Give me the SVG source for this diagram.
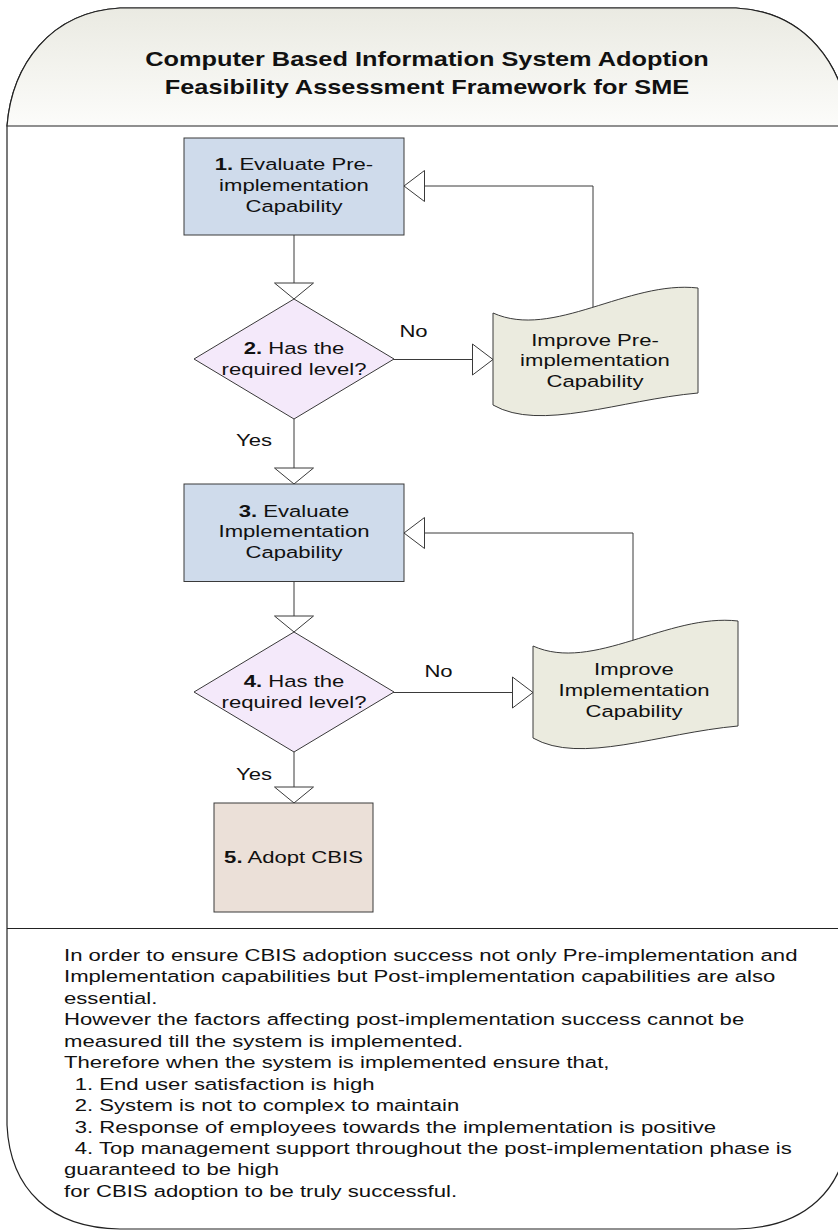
<svg xmlns="http://www.w3.org/2000/svg" width="838" height="1231" viewBox="0 0 838 1231">
<style>
.frame{fill:#fff;stroke:#222;stroke-width:1.2}
.div{stroke:#222;stroke-width:1.2;fill:none}
.proc{fill:#cfdbeb;stroke:#3a3a3a;stroke-width:1}
.dec{fill:#f4e9fa;stroke:#3a3a3a;stroke-width:1}
.tape{fill:#ebebdf;stroke:#3a3a3a;stroke-width:1}
.end{fill:#ebe0d8;stroke:#3a3a3a;stroke-width:1}
.c{fill:none;stroke:#3a3a3a;stroke-width:1}
.ah{fill:#fff;stroke:#3a3a3a;stroke-width:1}
.t{font-family:"Liberation Sans",Arial,sans-serif;font-size:17px;fill:#111}
.title{font-family:"Liberation Sans",Arial,sans-serif;font-size:19.5px;font-weight:bold;fill:#111}
.note{font-family:"Liberation Sans",Arial,sans-serif;font-size:16.5px;fill:#111}
</style>
<defs>
<linearGradient id="hdr" x1="0" y1="0" x2="0" y2="1">
<stop offset="0" stop-color="#eaeae2"/>
<stop offset="1" stop-color="#fcfcfa"/>
</linearGradient>
<marker id="av" markerUnits="userSpaceOnUse" orient="auto" overflow="visible" markerWidth="1" markerHeight="1" refX="0" refY="0">
<path class="ah" d="M-16,-19.5 L0,0 L-16,19.5 Z"/>
</marker>
<marker id="ah" markerUnits="userSpaceOnUse" orient="auto" overflow="visible" markerWidth="1" markerHeight="1" refX="0" refY="0">
<path class="ah" d="M-20.5,-15.5 L0,0 L-20.5,15.5 Z"/>
</marker>
</defs>

<g id="frame">
<path class="frame" d="M7,126 C12,65 50,12 120,8 L736,8 C806,12 844,65 849,126 L849,1125 C846,1190 805,1228 736,1229 L120,1229 C51,1228 10,1190 7,1125 Z"/>
<path d="M7,126 C12,65 50,12 120,8 L736,8 C806,12 844,65 849,126 Z" fill="url(#hdr)" stroke="#222" stroke-width="1.2"/>
<line class="div" x1="7" y1="928.5" x2="849" y2="928.5"/>
<text class="title" text-anchor="middle" transform="translate(427,65.5) scale(1.3,1)">Computer Based Information System Adoption</text>
<text class="title" text-anchor="middle" transform="translate(427,93.5) scale(1.3,1)">Feasibility Assessment Framework for SME</text>
</g>

<g id="connectors">
<path class="c" d="M294,235 L294,299" marker-end="url(#av)"/>
<path class="c" d="M393,359.5 L493,359.5" marker-end="url(#ah)"/>
<path class="c" d="M593,307 L593,186 L404,186" marker-end="url(#ah)"/>
<path class="c" d="M294,419 L294,484" marker-end="url(#av)"/>
<path class="c" d="M294,581.5 L294,632" marker-end="url(#av)"/>
<path class="c" d="M393,692.5 L533,692.5" marker-end="url(#ah)"/>
<path class="c" d="M633,641 L633,533 L404,533" marker-end="url(#ah)"/>
<path class="c" d="M294,752 L294,803" marker-end="url(#av)"/>
<text class="t" text-anchor="middle" transform="translate(413.5,336.5) scale(1.3,1)">No</text>
<text class="t" text-anchor="middle" transform="translate(254,446) scale(1.3,1)">Yes</text>
<text class="t" text-anchor="middle" transform="translate(438.5,676.5) scale(1.3,1)">No</text>
<text class="t" text-anchor="middle" transform="translate(254,780) scale(1.3,1)">Yes</text>
</g>

<g id="node1">
<rect class="proc" x="184" y="138" width="220" height="97"/>
<text class="t" text-anchor="middle" transform="translate(294,170) scale(1.3,1)"><tspan font-weight="bold">1.</tspan> Evaluate Pre-<tspan x="0" dy="21">implementation</tspan><tspan x="0" dy="21">Capability</tspan></text>
</g>

<g id="node2">
<polygon class="dec" points="294,299 394,359 294,419 194,359"/>
<text class="t" text-anchor="middle" transform="translate(294,354) scale(1.3,1)"><tspan font-weight="bold">2.</tspan> Has the<tspan x="0" dy="21">required level?</tspan></text>
</g>

<g id="node2b">
<path class="tape" d="M493,313 C553,340 628,280 698,288 L698,393 C620,400 540,432 493,405 Z"/>
<text class="t" text-anchor="middle" transform="translate(595,346) scale(1.3,1)">Improve Pre-<tspan x="0" dy="20.5">implementation</tspan><tspan x="0" dy="20.5">Capability</tspan></text>
</g>

<g id="node3">
<rect class="proc" x="184" y="484" width="220" height="97.5"/>
<text class="t" text-anchor="middle" transform="translate(294,516.5) scale(1.3,1)"><tspan font-weight="bold">3.</tspan> Evaluate<tspan x="0" dy="21">Implementation</tspan><tspan x="0" dy="21">Capability</tspan></text>
</g>

<g id="node4">
<polygon class="dec" points="294,632 394,692 294,752 194,692"/>
<text class="t" text-anchor="middle" transform="translate(294,687) scale(1.3,1)"><tspan font-weight="bold">4.</tspan> Has the<tspan x="0" dy="21">required level?</tspan></text>
</g>

<g id="node4b">
<path class="tape" d="M533,646 C593,673 668,613 738,621 L738,726 C660,733 580,765 533,738 Z"/>
<text class="t" text-anchor="middle" transform="translate(634,675) scale(1.3,1)">Improve<tspan x="0" dy="21">Implementation</tspan><tspan x="0" dy="21">Capability</tspan></text>
</g>

<g id="node5">
<rect class="end" x="214" y="803" width="159" height="109"/>
<text class="t" text-anchor="middle" transform="translate(293.5,863) scale(1.3,1)"><tspan font-weight="bold">5.</tspan> Adopt CBIS</text>
</g>

<g id="notes">
<text class="note" transform="translate(64,961) scale(1.34,1)">In order to ensure CBIS adoption success not only Pre-implementation and<tspan x="0" dy="21.45">Implementation capabilities but Post-implementation capabilities are also</tspan><tspan x="0" dy="21.45">essential.</tspan><tspan x="0" dy="21.45">However the factors affecting post-implementation success cannot be</tspan><tspan x="0" dy="21.45">measured till the system is implemented.</tspan><tspan x="0" dy="21.45">Therefore when the system is implemented ensure that,</tspan><tspan x="8" dy="21.45">1. End user satisfaction is high</tspan><tspan x="8" dy="21.45">2. System is not to complex to maintain</tspan><tspan x="8" dy="21.45">3. Response of employees towards the implementation is positive</tspan><tspan x="8" dy="21.45">4. Top management support throughout the post-implementation phase is</tspan><tspan x="0" dy="21.45">guaranteed to be high</tspan><tspan x="0" dy="21.45">for CBIS adoption to be truly successful.</tspan></text>
</g>
</svg>
